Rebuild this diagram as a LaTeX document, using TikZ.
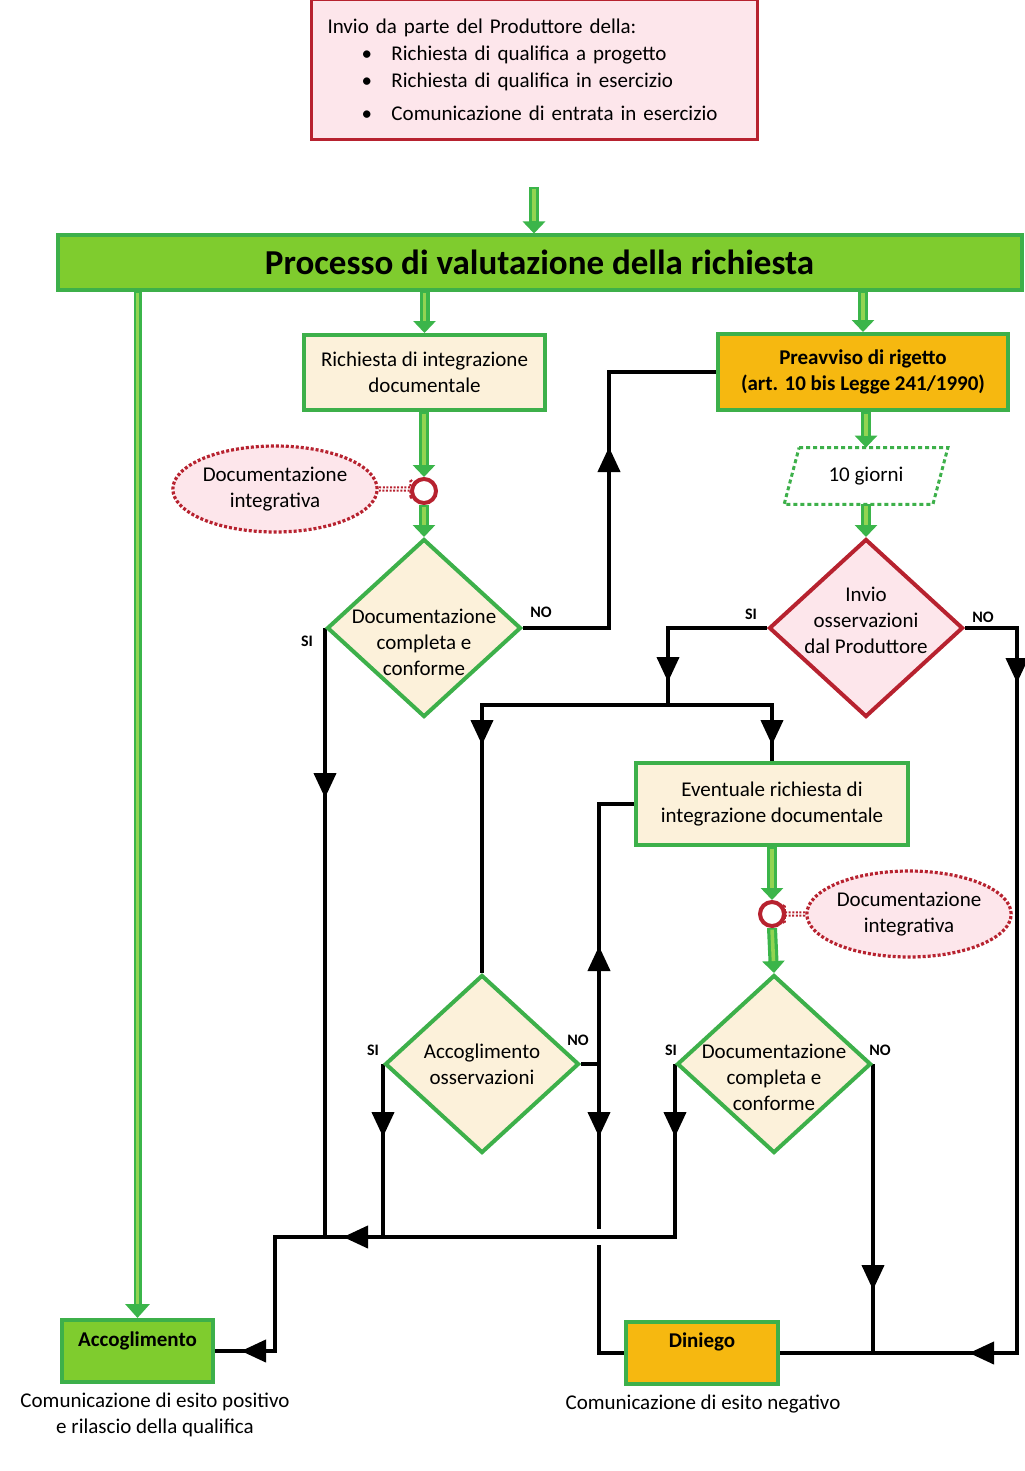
\documentclass[tikz,border=0pt]{standalone}
\usepackage{fontspec}
\setmainfont{Carlito}
\usetikzlibrary{shapes.geometric,shapes.arrows,arrows.meta,decorations.markings,backgrounds}

\definecolor{boxgreen}{HTML}{3DB04A}
\definecolor{bargreen}{HTML}{7FCC2E}
\definecolor{arrgreen}{HTML}{3BB54A}
\definecolor{litegreen}{HTML}{92D452}
\definecolor{cream}{HTML}{FCF1DA}
\definecolor{warnorange}{HTML}{F6B810}
\definecolor{darkred}{HTML}{B7222F}
\definecolor{pinkfill}{HTML}{FDE6EB}

\begin{document}
\begin{tikzpicture}[x=0.5pt,y=-0.5pt,
    font=\fontsize{10.5}{13}\selectfont,
    gbox/.style={rectangle, draw=boxgreen, line width=2pt, fill=cream, align=center, inner sep=0pt},
    decision/.style={diamond, draw=boxgreen, line width=2pt, fill=cream, inner sep=0pt, minimum width=97pt, minimum height=89pt},
    dotell/.style={ellipse, draw=darkred, fill=pinkfill, line width=1.6pt, dash pattern=on 1.5pt off 1pt, minimum width=94pt, minimum height=43pt, align=center, inner sep=0pt},
    junc/.style={circle, draw=darkred, fill=white, line width=2pt, minimum size=12pt, inner sep=0pt},
    dotarrow/.style={single arrow, draw=darkred, fill=white, line width=1pt, dash pattern=on 1pt off 0.8pt, minimum width=9.5pt, single arrow head extend=2.5pt, inner sep=0pt},
    conn/.style={line width=2pt, black},
    midtip/.style={postaction={decorate,decoration={markings,mark=at position #1 with {\arrow{Triangle[width=11pt,length=12.5pt]}}}}},
    garrow/.style={line width=5pt, arrgreen, -{Triangle[width=11pt,length=6pt]},
      postaction={draw=litegreen, line width=1.8pt, -, shorten >=6pt, shorten <=0.8pt}},
    gline/.style={line width=4pt, arrgreen, -{Triangle[width=12pt,length=7pt]},
      postaction={draw=litegreen, line width=1.4pt, -, shorten >=7pt, shorten <=0.8pt}},
    yn/.style={font=\fontsize{8}{9}\selectfont\bfseries}]
\useasboundingbox (0,0) rectangle (1024,1471);

% request from the producer
\node[draw=darkred, line width=1.5pt, fill=pinkfill, minimum height=70pt, text width=207pt, inner xsep=8pt, align=left,
      font=\fontsize{10.5}{13.5}\selectfont] (req) at (534.5,70) {Invio da parte del Produttore della:\\
  \hspace*{17pt}\makebox[15pt][l]{\textbullet}Richiesta di qualifica a progetto\\
  \hspace*{17pt}\makebox[15pt][l]{\textbullet}Richiesta di qualifica in esercizio\\[3pt]
  \hspace*{17pt}\makebox[15pt][l]{\textbullet}Comunicazione di entrata in esercizio};

\node[draw=boxgreen, line width=2pt, fill=bargreen, minimum width=482pt, minimum height=27pt,
      font=\fontsize{17.5}{20}\selectfont\bfseries] (proc) at (539.5,262.5) {Processo di valutazione della richiesta};

% boxes
\node[gbox, minimum width=120.5pt, minimum height=37.5pt] (rid) at (424.5,372.5) {Richiesta di integrazione\\documentale};
\node[gbox, fill=warnorange, minimum width=145pt, minimum height=38pt, font=\fontsize{10.5}{13}\selectfont\bfseries] (prea) at (863,372) {Preavviso di rigetto\\(art. 10 bis Legge 241/1990)};
\node[gbox, minimum width=136pt, minimum height=41pt] (evr) at (772,804) {Eventuale richiesta di\\integrazione documentale};
\node[gbox, fill=bargreen, minimum width=75.5pt, minimum height=31pt] (acc) at (137.5,1351) {};
\node[gbox, fill=warnorange, minimum width=76pt, minimum height=31pt] (din) at (702,1353) {};
\node[font=\fontsize{10.5}{13}\selectfont\bfseries] (acct) at ([yshift=-11.5pt]acc.north) {Accoglimento};
\node[font=\fontsize{10.5}{13}\selectfont\bfseries] (dint) at ([yshift=-11pt]din.north) {Diniego};
\node[align=center] (accl) at (155,1415) {Comunicazione di esito positivo\\e rilascio della qualifica};
\node (dinl) at (703,1404) {Comunicazione di esito negativo};

% waiting time
\node[minimum width=81.5pt, minimum height=28pt, inner sep=0pt] (giorni) at (866,476) {10 giorni};
\draw[boxgreen, line width=1.5pt, dash pattern=on 2pt off 1.5pt]
  ([xshift=7.5pt]giorni.north west) -- (giorni.north east) -- ([xshift=-7.5pt]giorni.south east) -- (giorni.south west) -- cycle;

% decisions
\node[decision] (d1) at (424,628) {};
\node[align=center] (d1t) at ([yshift=-7pt]d1.center) {Documentazione\\completa e\\conforme};
\node[decision, draw=darkred, fill=pinkfill] (d2) at (866,628) {};
\node[align=center] (d2t) at ([yshift=4pt]d2.center) {Invio\\osservazioni\\dal Produttore};
\node[decision] (d3) at (482,1064) {};
\node[align=center] (d3t) at (d3.center) {Accoglimento\\osservazioni};
\node[decision] (d4) at (774,1064) {};
\node[align=center] (d4t) at ([yshift=-6.5pt]d4.center) {Documentazione\\completa e\\conforme};

% additional documents
\node[dotell] (doc1) at (275,489) {Documentazione\\integrativa};
\node[dotarrow, minimum height=20pt, anchor=tail] (da1) at (doc1.east) {};
\node[junc] (c1) at (424,491) {};
\node[dotell] (doc2) at (909,914) {Documentazione\\integrativa};
\node[dotarrow, minimum height=14.5pt, anchor=tail, shape border rotate=180] (da2) at (doc2.west) {};
\node[junc] (c2) at (772,914) {};

% yes / no
\node[yn] (d1no) at (541,612) {NO};
\node[yn] (d1si) at (307,641) {SI};
\node[yn] (d2si) at (751,614) {SI};
\node[yn] (d2no) at (983,617) {NO};
\node[yn] (d3si) at (373,1050) {SI};
\node[yn] (d3no) at (578,1040) {NO};
\node[yn] (d4si) at (671,1050) {SI};
\node[yn] (d4no) at (880,1050) {NO};

% bends
\coordinate (s0) at (534,187);
\coordinate (j1) at (668,705);
\coordinate (bot) at (0,1237);
\coordinate (lcol) at (275,0);
\coordinate (mcol) at (599,0);
\coordinate (rcol) at (1017,0);
\coordinate (gapt) at (0,1229);
\coordinate (gapb) at (0,1245);

\begin{scope}[on background layer]
% green flow
\draw[garrow] (s0) -- (proc.north -| s0);
\draw[garrow] (rid.north |- proc.south) -- (rid.north);
\draw[garrow] (prea.north |- proc.south) -- (prea.north);
\draw[gline] (acc.north |- proc.south) -- (acc.north);
\draw[garrow] (rid.south -| c1) -- (c1.north);
\draw[garrow] (c1.south) -- (d1.north);
\draw[garrow] (giorni.north |- prea.south) -- (giorni.north);
\draw[garrow] (giorni.south) -- (d2.north);
\draw[garrow] (evr.south -| c2) -- (c2.north);
\draw[garrow] (c2.south) -- (d4.north);

% black flow
\draw[conn, midtip=85pt] (d1.west) -- (d1.west |- bot);
\draw[conn, midtip=133.5pt] (d1.east) -| ([xshift=-53.5pt]prea.west) -- (prea.west);
\draw[conn, midtip=76.5pt] (d2.west) -| (j1);
\draw[conn, midtip=113pt] (j1) -| (d3.north);
\draw[conn, midtip=72pt] (j1) -| (evr.north);
\draw[conn, midtip=53.5pt, midtip=412.5pt] (d2.east) -| (rcol |- din.east) -- (din.east);
\draw[conn, midtip=36.5pt, midtip=252.5pt, midtip=360.5pt] (d4.west) |- (lcol |- bot) |- (acc.east);
\draw[conn, midtip=36.5pt] (d3.west) -- (d3.west |- bot);
\draw[conn, midtip=68pt] (d3.east) -| (mcol |- evr.west) -- (evr.west);
\draw[conn, midtip=36.5pt] (d3.east -| mcol) -- (mcol |- gapt);
\draw[conn] (mcol |- gapb) |- (din.west);
\draw[conn, midtip=113pt] (d4.east) -- (d4.east |- din.east);
\end{scope}
\end{tikzpicture}
\end{document}
